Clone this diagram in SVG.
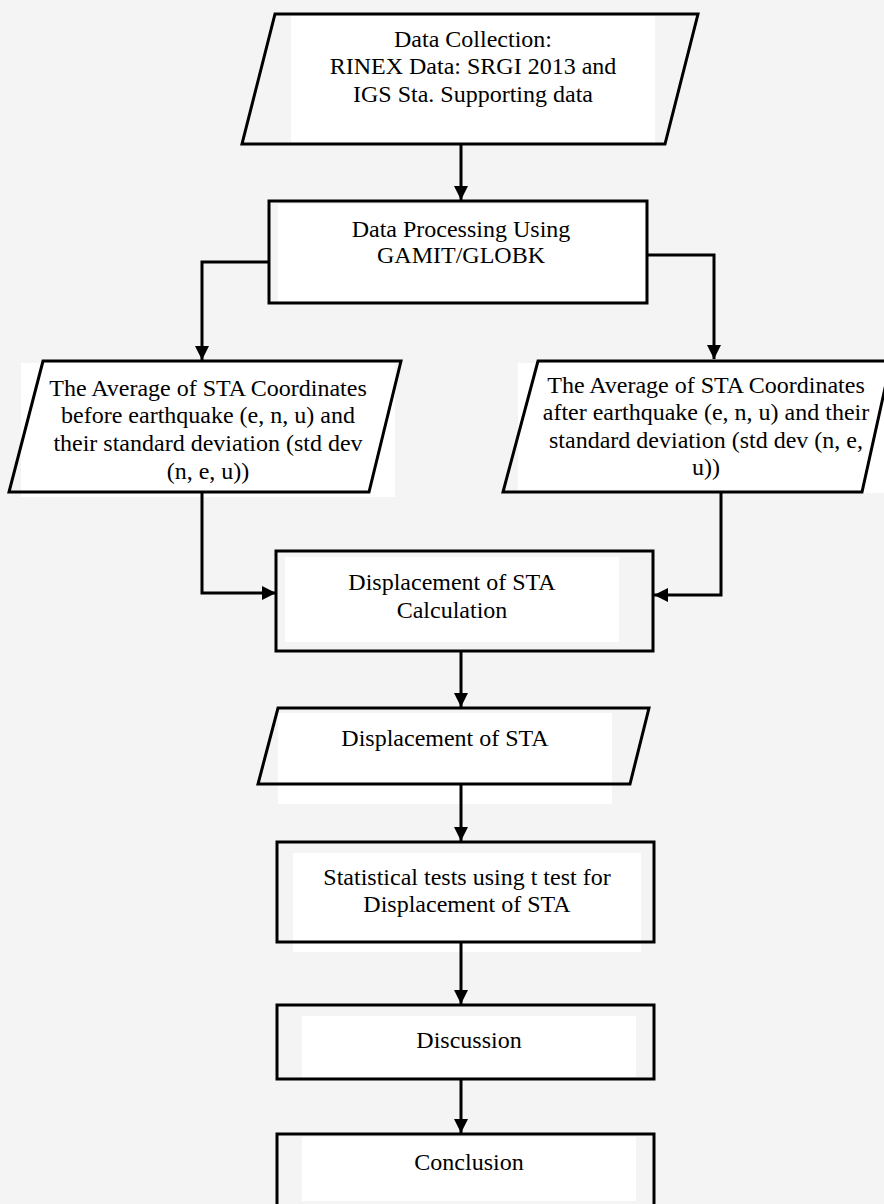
<svg xmlns="http://www.w3.org/2000/svg" width="884" height="1204" viewBox="0 0 884 1204">
<defs>
<marker id="arr" viewBox="0 0 14 14" markerWidth="14" markerHeight="14" refX="14" refY="7" orient="auto" markerUnits="userSpaceOnUse">
<path d="M0,0 L14,7 L0,14 z" fill="#000"/>
</marker>
</defs>
<style>
.bg{fill:#f4f4f4}
.tb{fill:#ffffff}
.sh{fill:none;stroke:#000;stroke-width:3;stroke-linejoin:miter}
.t{font-family:"Liberation Serif","Times New Roman",serif;font-size:24px;fill:#000;text-anchor:middle}
.c{fill:none;stroke:#000;stroke-width:3;marker-end:url(#arr)}
</style>
<rect class="bg" x="0" y="0" width="884" height="1204"/>
<g id="n1">
<rect class="tb" x="291" y="16" width="364" height="128"/>
<polygon class="sh" points="275,14 698,14 665,144 242,144"/>
<text class="t" x="473" y="47">Data Collection:</text>
<text class="t" x="473" y="74">RINEX Data: SRGI 2013 and</text>
<text class="t" x="473" y="102">IGS Sta. Supporting data</text>
</g>
<g id="n2">
<rect class="tb" x="278" y="204" width="367" height="97"/>
<rect class="sh" x="269" y="201" width="378" height="102"/>
<text class="t" x="461" y="237">Data Processing Using</text>
<text class="t" x="461" y="263">GAMIT/GLOBK</text>
</g>
<g id="n3">
<rect class="tb" x="21" y="363" width="374" height="134"/>
<polygon class="sh" points="43,361 401,361 369,492 9,492"/>
<text class="t" x="208" y="396">The Average of STA Coordinates</text>
<text class="t" x="208" y="423">before earthquake (e, n, u) and</text>
<text class="t" x="208" y="451">their standard deviation (std dev</text>
<text class="t" x="208" y="479">(n, e, u))</text>
</g>
<g id="n4">
<rect class="tb" x="518" y="363" width="366" height="130"/>
<polygon class="sh" points="538,361 891,361 862,492 503,492"/>
<text class="t" x="706" y="393">The Average of STA Coordinates</text>
<text class="t" x="706" y="420">after earthquake (e, n, u) and their</text>
<text class="t" x="706" y="448">standard deviation (std dev (n, e,</text>
<text class="t" x="706" y="475">u))</text>
</g>
<g id="n5">
<rect class="tb" x="285" y="557" width="334" height="85"/>
<rect class="sh" x="276" y="551" width="377" height="100"/>
<text class="t" x="452" y="590">Displacement of STA</text>
<text class="t" x="452" y="618">Calculation</text>
</g>
<g id="n6">
<rect class="tb" x="278" y="713" width="334" height="91"/>
<polygon class="sh" points="278,708 649,708 630,784 258,784"/>
<text class="t" x="445" y="746">Displacement of STA</text>
</g>
<g id="n7">
<rect class="tb" x="293" y="853" width="348" height="99"/>
<rect class="sh" x="277" y="842" width="377" height="100"/>
<text class="t" x="467" y="885">Statistical tests using t test for</text>
<text class="t" x="467" y="912">Displacement of STA</text>
</g>
<g id="n8">
<rect class="tb" x="302" y="1016" width="334" height="61"/>
<rect class="sh" x="277" y="1005" width="377" height="74"/>
<text class="t" x="469" y="1048">Discussion</text>
</g>
<g id="n9">
<rect class="tb" x="302" y="1137" width="334" height="64"/>
<rect class="sh" x="277" y="1134" width="377" height="80"/>
<text class="t" x="469" y="1170">Conclusion</text>
</g>
<g id="connectors">
<polyline class="c" points="461,144 461,200"/>
<polyline class="c" points="269,262 202,262 202,360"/>
<polyline class="c" points="647,255 714,255 714,359"/>
<polyline class="c" points="202,492 202,593 276,593"/>
<polyline class="c" points="721,492 721,595 654,595"/>
<polyline class="c" points="461,651 461,707"/>
<polyline class="c" points="461,784 461,841"/>
<polyline class="c" points="461,942 461,1004"/>
<polyline class="c" points="461,1079 461,1133"/>
</g>
</svg>
